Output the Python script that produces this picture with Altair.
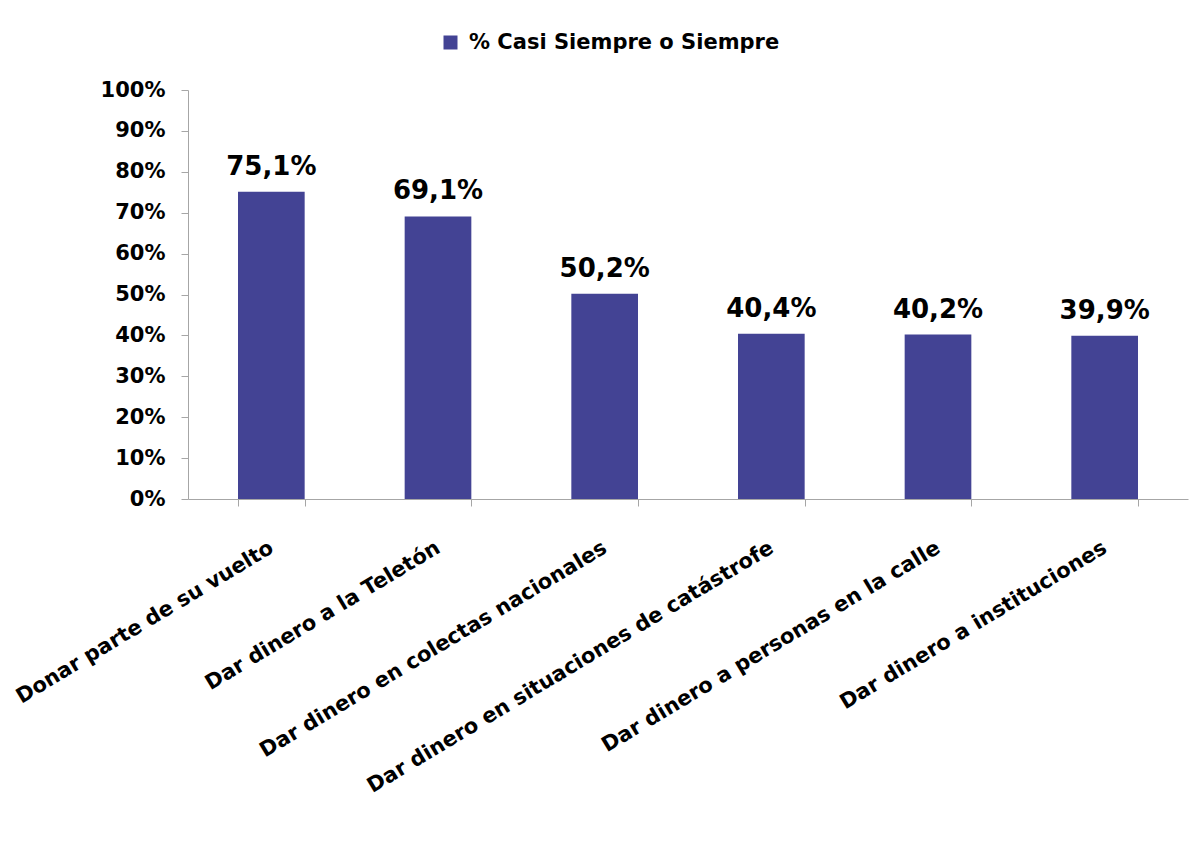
import altair as alt
import pandas as pd

categorias = [
    "Donar parte de su vuelto",
    "Dar dinero a la Teletón",
    "Dar dinero en colectas nacionales",
    "Dar dinero en situaciones de catástrofe",
    "Dar dinero a personas en la calle",
    "Dar dinero a instituciones",
]
valores = [75.1, 69.1, 50.2, 40.4, 40.2, 39.9]
serie = "% Casi Siempre o Siempre"
ticks_y = [0, 10, 20, 30, 40, 50, 60, 70, 80, 90, 100]

df = pd.DataFrame({
    "categoria": categorias,
    "valor": valores,
    "serie": [serie] * len(categorias),
    "etiqueta": [f"{v:.1f}%".replace(".", ",") for v in valores],
})

FONT = "DejaVu Sans"
GRIS = "#a6a6a6"
COLOR = "#434394"

base = alt.Chart(df).encode(
    x=alt.X(
        "categoria:N",
        sort=categorias,
        scale=alt.Scale(paddingInner=0.6, paddingOuter=0.3),
        axis=alt.Axis(
            title=None, labelAngle=-31, labelAlign="right", labelBaseline="middle",
            labelPadding=40, labelFontSize=21, labelFontWeight="bold", labelColor="black",
            labelFont=FONT, labelLimit=0, tickBand="extent", tickSize=7,
            domainColor=GRIS, tickColor=GRIS,
        ),
    ),
    y=alt.Y(
        "valor:Q",
        scale=alt.Scale(domain=[0, 100]),
        axis=alt.Axis(
            title=None, values=ticks_y, labelExpr="datum.value + '%'", grid=False,
            labelFontSize=21, labelFontWeight="bold", labelColor="black", labelFont=FONT,
            labelPadding=16, tickSize=7, domainColor=GRIS, tickColor=GRIS,
        ),
    ),
)

bars = base.mark_bar().encode(
    color=alt.Color(
        "serie:N",
        scale=alt.Scale(range=[COLOR]),
        legend=alt.Legend(
            title=None, orient="none", legendX=252, legendY=-58, symbolType="square",
            symbolSize=196, symbolStrokeWidth=0, labelFontSize=21, labelFontWeight="bold",
            labelFont=FONT, labelColor="black", labelOffset=8, labelLimit=0,
        ),
    )
)

labels = base.mark_text(
    dy=-12, baseline="bottom", fontSize=26, fontWeight="bold", font=FONT, color="black"
).encode(text="etiqueta:N")

chart = (
    (bars + labels)
    .properties(
        width=1000,
        height=409,
        autosize=alt.AutoSizeParams(type="none"),
        padding={"left": 180, "top": 82, "right": 6, "bottom": 330},
        view=alt.ViewBackground(stroke="transparent", strokeWidth=0),
    )
    .configure_view(stroke="transparent", strokeWidth=0)
    .configure(font=FONT)
)

chart.save("out.html", embed_options={"renderer": "svg", "actions": False})
